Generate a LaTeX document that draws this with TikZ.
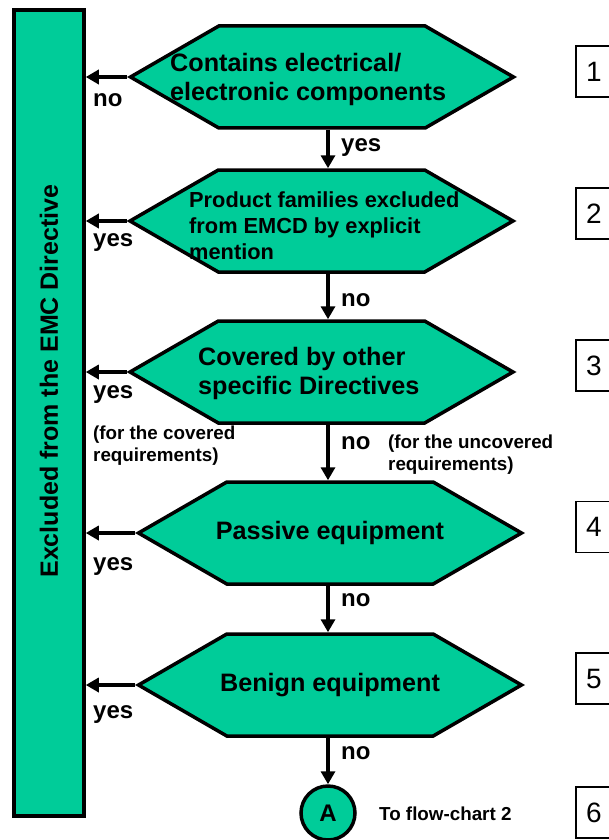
\documentclass[tikz,border=0pt]{standalone}
\usepackage{fontspec}
\setmainfont{Liberation Sans}
\usetikzlibrary{shapes.symbols,arrows.meta}
\definecolor{emcgreen}{RGB}{0,204,153}
\tikzset{
  hexbox/.style={signal, signal to=west and east, signal pointer angle=60, draw, line width=3.5pt, fill=emcgreen, minimum width=383pt, minimum height=102pt, inner sep=0pt},
  hextext/.style={font=\bfseries\fontsize{25.2}{29}\selectfont, align=left, inner sep=0pt},
  flow/.style={line width=4pt, -{Triangle[length=13pt,width=14pt]}},
  lbl/.style={font=\bfseries\fontsize{24}{28}\selectfont, inner sep=0pt, anchor=west},
  note/.style={font=\bfseries\fontsize{18.8}{22}\selectfont, inner sep=0pt, anchor=west, align=left},
  stepno/.style={draw, line width=1.2pt, minimum width=36pt, minimum height=51pt, inner sep=0pt, font=\fontsize{28}{30}\selectfont},
}
\begin{document}
\begin{tikzpicture}[x=1pt,y=1pt]
    \clip (0,0) rectangle (609,-840);
    \node[draw, line width=3.5pt, fill=emcgreen, minimum width=70pt, minimum height=806pt, inner sep=0pt] (bar) at (49,-413) {};
    \node[rotate=90, font=\bfseries\fontsize{25}{30}\selectfont, inner sep=0pt] (excl) at (49,-381) {Excluded from the EMC Directive};
    \coordinate (spine) at (328,0);

    \node[hexbox] (q1) at (322,-77) {};
    \node[hexbox] (q2) at (321.5,-221) {};
    \node[hexbox] (q3) at (321.5,-372) {};
    \node[hexbox] (q4) at (330,-533) {};
    \node[hexbox] (q5) at (330,-685) {};
    \node[draw, circle, line width=3.5pt, fill=emcgreen, minimum size=54pt, inner sep=0pt, font=\bfseries\fontsize{24}{28}\selectfont] (A) at (328,-813) {A};

    \node[hextext, anchor=west] (t1) at (170,-79) {Contains electrical/\\electronic components};
    \node[hextext, anchor=west, font=\bfseries\fontsize{21.8}{26}\selectfont] (t2) at (189,-226) {Product families excluded\\from EMCD by explicit\\mention};
    \node[hextext, anchor=west] (t3) at (198,-373) {Covered by other\\specific Directives};
    \node[hextext] (t4) at (q4) {Passive equipment};
    \node[hextext] (t5) at (q5) {Benign equipment};

    \draw[flow] (q1.south -| spine) -- (q2.north -| spine);
    \draw[flow] (q2.south -| spine) -- (q3.north -| spine);
    \draw[flow] (q3.south -| spine) -- (q4.north -| spine);
    \draw[flow] (q4.south -| spine) -- (q5.north -| spine);
    \draw[flow] (q5.south -| spine) -- (A);

    \draw[flow] (q1.west) -- (q1.west -| bar.east);
    \draw[flow] (q2.west) -- (q2.west -| bar.east);
    \draw[flow] (q3.west) -- (q3.west -| bar.east);
    \draw[flow] (q4.west) -- (q4.west -| bar.east);
    \draw[flow] (q5.west) -- (q5.west -| bar.east);

    \node[lbl] (l1) at (93,-100) {no};
    \node[lbl] (l2) at (93,-243) {yes};
    \node[lbl] (l3) at (93,-395) {yes};
    \node[lbl] (l4) at (93,-567) {yes};
    \node[lbl] (l5) at (93,-715) {yes};
    \node[lbl] (d1) at (341,-148) {yes};
    \node[lbl] (d2) at (341,-300) {no};
    \node[lbl] (d3) at (341,-443) {no};
    \node[lbl] (d4) at (341,-600) {no};
    \node[lbl] (d5) at (341,-753) {no};
    \node[note] (cov) at (93,-446) {(for the covered\\requirements)};
    \node[note] (uncov) at (388,-455) {(for the uncovered\\requirements)};
    \node[note] (toA) at (379,-814) {To flow-chart 2};

    \node[stepno] (s1) at (594,-71.5) {1};
    \node[stepno] (s2) at (594,-213.5) {2};
    \node[stepno] (s3) at (594,-365.5) {3};
    \node[stepno] (s4) at (594,-527) {4};
    \node[stepno] (s5) at (594,-678.5) {5};
    \node[stepno] (s6) at (594,-812.5) {6};
\end{tikzpicture}
\end{document}
